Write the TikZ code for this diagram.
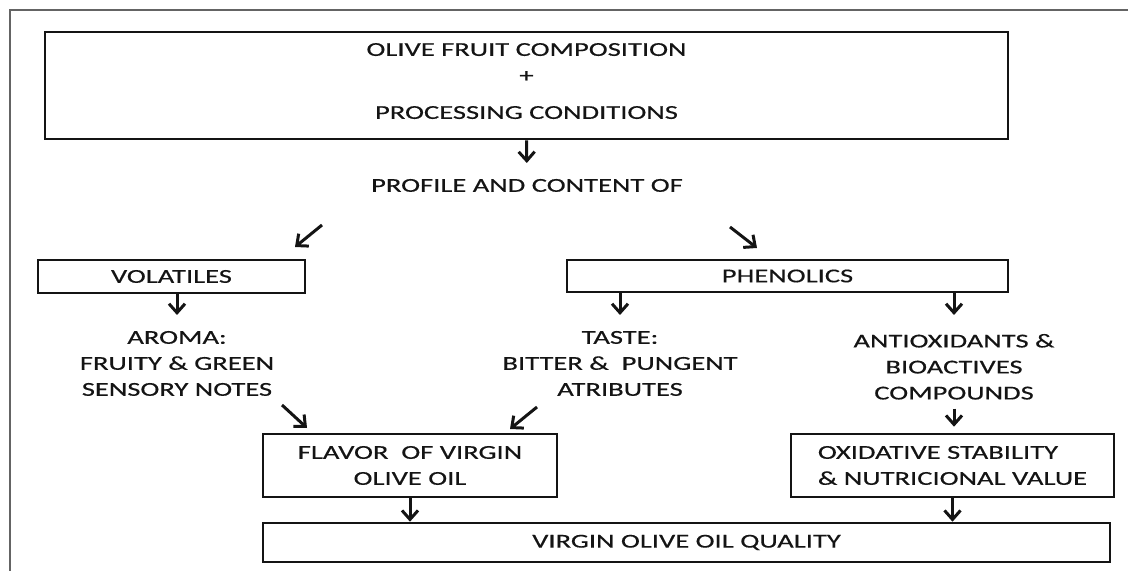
\documentclass[tikz,border=0pt]{standalone}
\usepackage{fontspec}
\setmainfont{Carlito}[FakeStretch=1.45,FakeBold=0.4]
\definecolor{FrameGray}{RGB}{100,100,100}
\definecolor{InkBlack}{RGB}{20,20,20}
\usetikzlibrary{arrows.meta}

\begin{document}
\begin{tikzpicture}[x=0.5pt,y=-0.5pt,
  every node/.style={font=\fontsize{9.85}{13}\selectfont,text=InkBlack},
  box/.style={draw=InkBlack,line width=1.3pt,inner sep=0pt},
  txt/.style={align=center,inner sep=0pt,anchor=north},
  arr/.style={-{Straight Barb[length=4.5pt,width=8pt]},line width=1.5pt,draw=InkBlack}]
  \useasboundingbox (0,0) rectangle (1128,571);
  % open frame, cut by the page
  \draw[FrameGray,line width=1.2pt] (10,571) -- (10,10) -- (1128,10);

  % Boxes
  \node[box,minimum width=481.5pt,minimum height=53.5pt,align=center] (top) at (526.5,85.5)
       {OLIVE FRUIT COMPOSITION\\ +\\[5.5pt] PROCESSING CONDITIONS\rule[-4.5pt]{0pt}{0pt}};
  \node[box,minimum width=133.5pt,minimum height=16.5pt] (vol) at (171.5,276.5) {VOLATILES};
  \node[box,minimum width=220.5pt,minimum height=16pt] (phen) at (787.5,276) {PHENOLICS};
  \node[box,minimum width=147pt,minimum height=31.5pt,align=center] (flav) at (410,465.5)
       {FLAVOR\ \ OF VIRGIN\\ OLIVE OIL};
  \node[box,minimum width=161.5pt,minimum height=31.5pt,align=left] (oxi) at (952.5,465.5)
       {OXIDATIVE STABILITY\\ \& NUTRICIONAL VALUE};
  \node[box,minimum width=423.5pt,minimum height=19.5pt] (qual) at (686.5,542.5)
       {VIRGIN OLIVE OIL QUALITY};

  % Free texts
  \node[txt] (prof) at (527,178.6) {PROFILE AND CONTENT OF};
  \node[txt] (aroma) at (177,330.6) {AROMA:\\ FRUITY \& GREEN\\ SENSORY NOTES};
  \node[txt] (taste) at (620,330.6) {TASTE:\\ BITTER \&\ \ PUNGENT\\ ATRIBUTES};
  \node[txt] (anti) at (954,333.6) {ANTIOXIDANTS \&\\ BIOACTIVES\\ COMPOUNDS};

  % Arrows
  \draw[arr,shorten >=7.8pt] (top.south) -- (prof.north);
  \coordinate (lt) at (322,225); \coordinate (lh) at (295,247);
  \coordinate (rt) at (730,227); \coordinate (rh) at (757,248);
  \draw[arr] (lt) -- (lh);
  \draw[arr] (rt) -- (rh);
  \draw[arr,shorten >=7.8pt] (vol.south -| aroma.north) -- (aroma.north);
  \draw[arr,shorten >=7.8pt] (phen.south -| taste.north) -- (taste.north);
  \draw[arr,shorten >=9.3pt] (phen.south -| anti.north) -- (anti.north);
  \coordinate (at) at (282,405); \coordinate (ah) at (307,428);
  \coordinate (tt) at (537,407); \coordinate (th) at (510,429);
  \draw[arr] (at) -- (ah);
  \draw[arr] (tt) -- (th);
  \draw[arr,shorten <=4.3pt,shorten >=3pt] (anti.south) -- (anti.south |- oxi.north);
  \draw[arr] (flav.south) -- (flav.south |- qual.north);
  \draw[arr] (oxi.south) -- (oxi.south |- qual.north);
\end{tikzpicture}
\end{document}
